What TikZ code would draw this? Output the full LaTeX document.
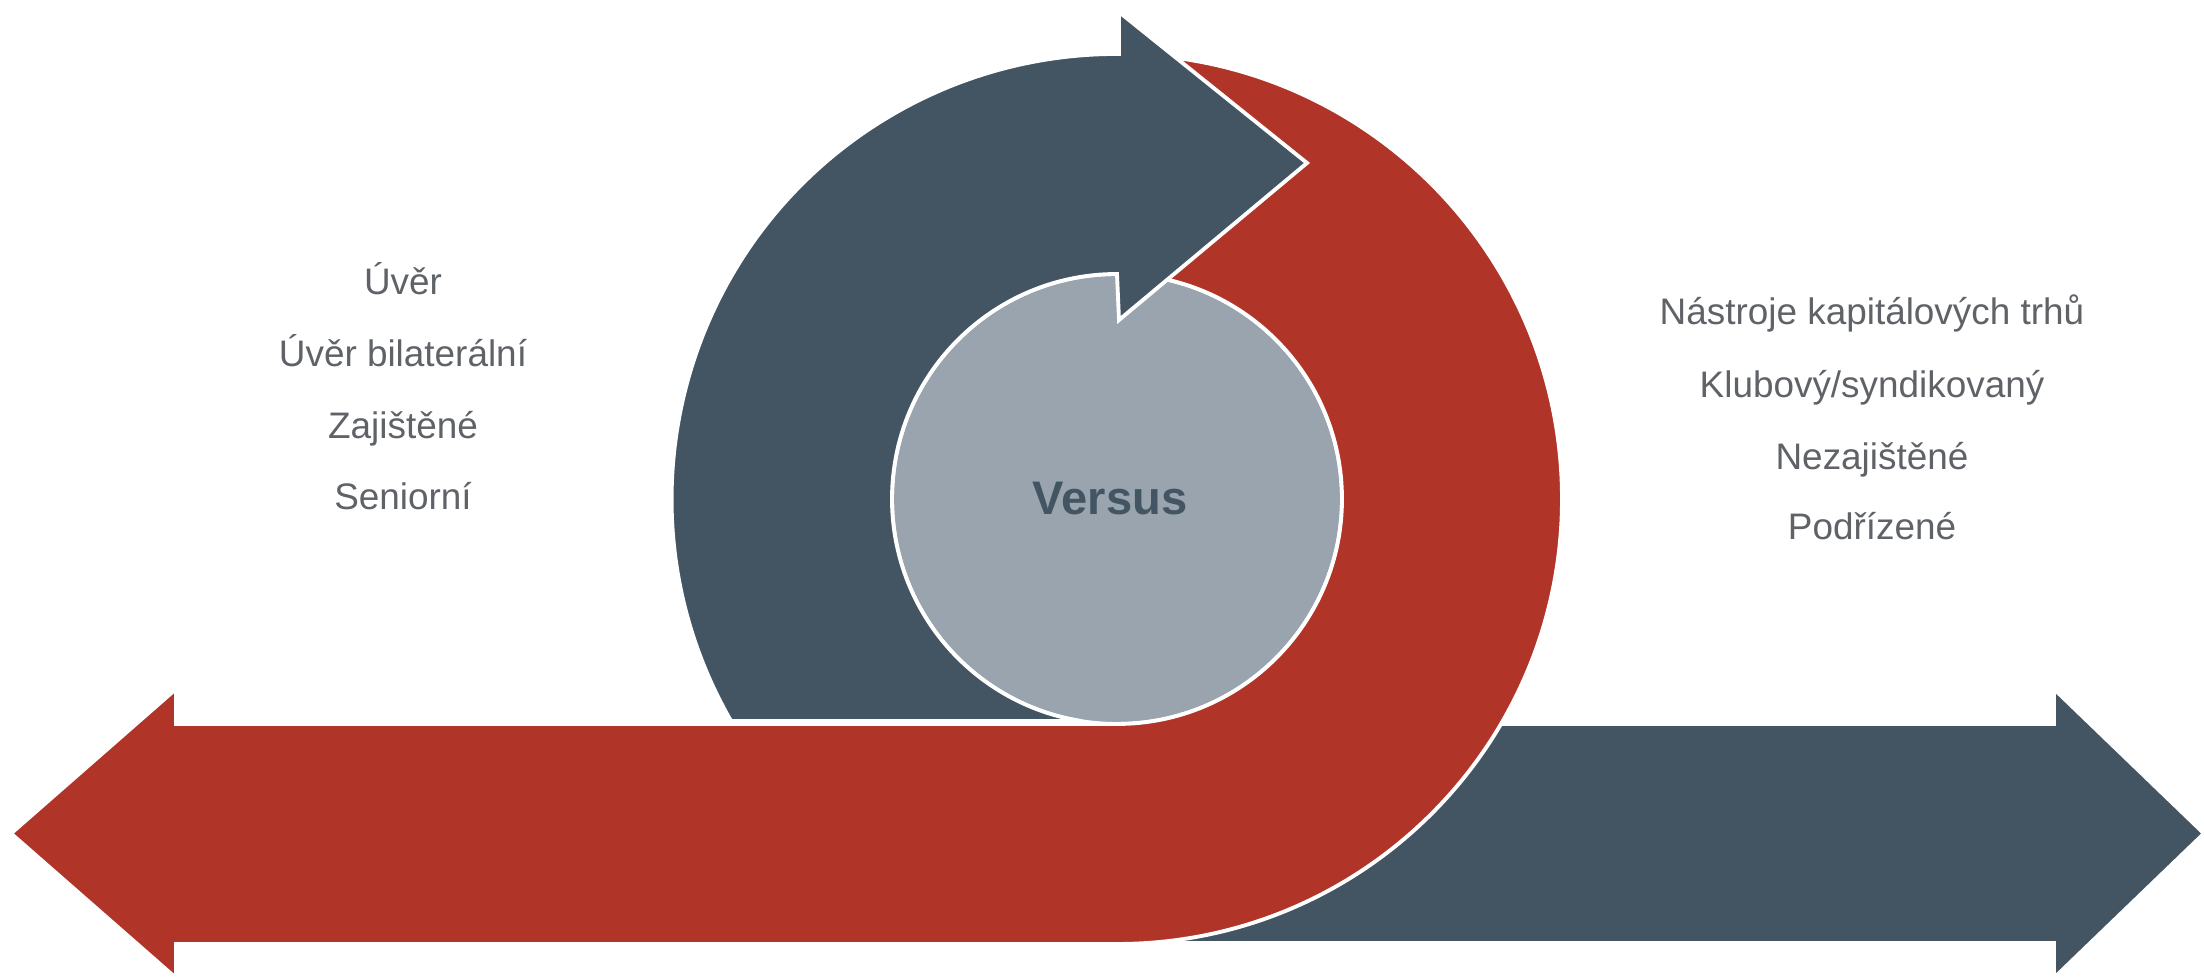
\documentclass[tikz,border=0pt]{standalone}
\usepackage{fontspec}
\setmainfont{Liberation Sans}
\definecolor{slate}{HTML}{435563}
\definecolor{brick}{HTML}{B03427}
\definecolor{coregray}{HTML}{9AA4AF}
\definecolor{txtgray}{HTML}{5F6368}
\tikzset{
  piece/.style={draw=white, line width=1.1pt, line join=miter},
  sidetext/.style={anchor=base, text=txtgray, font=\fontsize{10.5}{12}\selectfont, inner sep=0pt},
}
\begin{document}
\begin{tikzpicture}
\useasboundingbox (0,0) rectangle (22.04,9.79);
\coordinate (C) at (11.17,4.80);
% right (blue) straight arrow
\path[piece, fill=slate] (11.17,2.55) -- (20.54,2.55) -- (20.54,2.90) -- (22.04,1.455)
  -- (20.54,0.01) -- (20.54,0.36) -- (11.17,0.36) -- cycle;
% central circle
\node[circle, fill=coregray, piece, minimum size=4.5cm, inner sep=0pt] (core) at (C) {};
% red J-shaped arrow
\path[piece, fill=brick] (1.76,2.55) -- (11.17,2.55)
  arc[start angle=270, end angle=450, radius=2.25] -- (11.17,9.25)
  arc[start angle=90, end angle=-90, radius=4.45] -- (1.76,0.35) -- (1.76,0.01)
  -- (0.11,1.455) -- (1.76,2.90) -- cycle;
% blue circular arrow
\path[piece, fill=slate] (11.19,9.25) -- (11.19,9.67) -- (13.07,8.16) -- (11.19,6.59)
  -- (11.17,7.05) arc[start angle=90, end angle=260.6, radius=2.25] -- (7.31,2.58)
  arc[start angle=209.93, end angle=90, radius=4.45] -- cycle;
% center text
\node[anchor=base, text=slate, font=\fontsize{13.4}{16}\selectfont\bfseries, inner sep=0pt] (vs) at (11.10,4.64) {Versus};
% left labels
\node[sidetext] (l1) at (4.03,6.84) {Úvěr};
\node[sidetext] (l2) at (4.03,6.12) {Úvěr bilaterální};
\node[sidetext] (l3) at (4.03,5.40) {Zajištěné};
\node[sidetext] (l4) at (4.03,4.69) {Seniorní};
% right labels
\node[sidetext] (r1) at (18.72,6.54) {Nástroje kapitálových trhů};
\node[sidetext] (r2) at (18.72,5.81) {Klubový/syndikovaný};
\node[sidetext] (r3) at (18.72,5.09) {Nezajištěné};
\node[sidetext] (r4) at (18.72,4.39) {Podřízené};
\end{tikzpicture}
\end{document}
